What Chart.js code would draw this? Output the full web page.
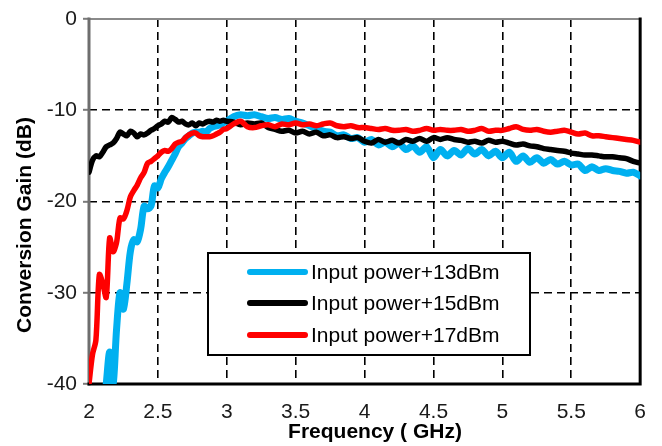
<!DOCTYPE html>
<html>
<head>
<meta charset="utf-8">
<script src="https://cdn.jsdelivr.net/npm/chart.js@4.4.1/dist/chart.umd.min.js"></script>
<style>
  html, body { margin: 0; padding: 0; background: #fff; }
  #wrap { width: 662px; height: 446px; }
</style>
</head>
<body>
<div id="wrap"><canvas id="gainChart" width="662" height="446"></canvas></div>
<script>
// frequency points (GHz), finer steps on the steep rising part
const freqGHz = [
  2.0, 2.025, 2.05, 2.075, 2.1, 2.125, 2.15, 2.175, 2.2, 2.225,
  2.25, 2.275, 2.3, 2.325, 2.35, 2.375, 2.4, 2.425, 2.45, 2.475,
  2.5, 2.525, 2.55, 2.575, 2.6, 2.625, 2.65, 2.675, 2.7, 2.725,
  2.75, 2.775, 2.8, 2.825, 2.85, 2.875, 2.9, 2.925, 2.95, 2.975,
  3.0, 3.05, 3.1, 3.15, 3.2, 3.25, 3.3, 3.35, 3.4, 3.45,
  3.5, 3.55, 3.6, 3.65, 3.7, 3.75, 3.8, 3.85, 3.9, 3.95,
  4.0, 4.05, 4.1, 4.15, 4.2, 4.25, 4.3, 4.35, 4.4, 4.45,
  4.5, 4.55, 4.6, 4.65, 4.7, 4.75, 4.8, 4.85, 4.9, 4.95,
  5.0, 5.05, 5.1, 5.15, 5.2, 5.25, 5.3, 5.35, 5.4, 5.45,
  5.5, 5.55, 5.6, 5.65, 5.7, 5.75, 5.8, 5.85, 5.9, 5.95,
  6.0
];

const gain13dBm = [
  null, null, null, null, null, -40, -36.5, -40, -34, -30.0,
  -31.8, -29.0, -25.5, -24.2, -24.4, -23.0, -20.5, -20.8, -20.5, -18.3,
  -18.5, -17.5, -16.8, -16.2, -15.5, -14.8, -14.0, -13.6, -13.1, -12.8,
  -12.5, -12.4, -12.4, -12.3, -12.4, -12.0, -11.8, -11.7, -11.6, -11.4,
  -11.2, -10.7, -10.5, -10.6, -10.5, -10.7, -10.9, -10.8, -11.0, -10.9,
  -11.2, -11.4, -11.7, -12.0, -12.3, -12.4, -12.8, -12.7, -13.1, -13.0,
  -13.5, -13.2, -13.8, -13.5, -14.0, -13.6, -14.3, -13.9, -14.6, -14.0,
  -15.2, -14.3, -15.0, -14.4, -14.9, -14.2, -14.8, -14.3, -15.0, -14.5,
  -15.2, -14.6, -15.6, -15.0, -15.7, -15.2, -15.8, -15.4, -15.9, -15.6,
  -16.0, -15.9, -16.6, -16.2, -16.6, -16.4, -16.6, -16.7, -16.9, -16.8,
  -17.2
];

const gain15dBm = [
  -16.8, -15.5, -15.0, -15.1, -14.6, -14.0, -13.8, -13.6, -13.1, -12.4,
  -12.6, -12.8, -12.3, -12.5, -12.9, -12.6, -12.7, -12.5, -12.2, -12.0,
  -11.7, -11.5, -11.2, -11.3, -10.8, -11.0, -11.3, -11.2, -11.5, -11.6,
  -11.4, -11.7, -11.4, -11.5, -11.3, -11.2, -11.3, -11.1, -11.2, -11.1,
  -11.2, -11.3, -11.6, -11.4, -11.5, -11.4, -11.9, -12.1, -12.3, -12.2,
  -12.5, -12.3, -12.6, -12.4, -12.8, -12.7, -13.0, -12.9, -13.1, -13.0,
  -13.4, -13.6, -13.2, -13.5, -13.3, -13.6, -13.2, -13.4, -13.1, -13.4,
  -13.0, -13.2, -13.0, -13.2, -13.3, -13.5, -13.4, -13.6, -13.3, -13.5,
  -13.4, -13.6, -13.8, -13.7, -13.9, -14.0, -14.2, -14.3, -14.4, -14.5,
  -14.7, -14.8, -14.9, -14.9, -15.0, -15.1, -15.1, -15.2, -15.3, -15.6,
  -15.8
];

const gain17dBm = [
  -40, -36.8, -35.2, -28.0, -29.0, -30.5, -24.0, -25.5, -24.5, -21.8,
  -21.9, -21.0, -19.5, -18.8, -18.2, -17.4, -16.8, -15.8, -15.6, -15.3,
  -15.0, -14.6, -14.4, -14.5, -14.2, -13.7, -13.5, -13.4, -13.0, -12.7,
  -12.5, -12.5, -12.8, -12.9, -12.9, -12.9, -12.8, -12.6, -12.4, -12.1,
  -12.0, -11.5, -11.2, -11.8, -11.9, -11.7, -11.6, -11.8, -11.5, -11.6,
  -11.4, -11.6, -11.5, -11.7, -11.5, -11.4, -11.7, -11.8, -11.7, -11.9,
  -11.9, -12.0, -12.1, -12.0, -12.2, -12.2, -12.1, -12.3, -12.2, -12.0,
  -12.2, -12.1, -12.2, -12.2, -12.1, -12.3, -12.2, -12.0, -12.3, -12.2,
  -12.2, -12.0, -11.8, -12.1, -12.2, -12.1, -12.3, -12.4, -12.3, -12.2,
  -12.4, -12.6, -12.5, -12.8, -12.8, -12.9, -13.0, -13.1, -13.2, -13.3,
  -13.5
];

const seriesLabels = ["Input power+13dBm", "Input power+15dBm", "Input power+17dBm"];
const xTicks = [2, 2.5, 3, 3.5, 4, 4.5, 5, 5.5, 6];
const yTicks = [0, -10, -20, -30, -40];

const FONT = "'Liberation Sans', Arial, sans-serif";

function toPoints(values) {
  return freqGHz.map((f, i) => ({ x: f, y: values[i] }));
}

// frame: gray left/top, black right/bottom
const framePlugin = {
  id: "frame",
  beforeDatasetsDraw(chart) {
    const { ctx, chartArea: a } = chart;
    ctx.save();
    ctx.lineCap = "square";
    ctx.strokeStyle = "#8a8a8a";
    ctx.lineWidth = 2;
    ctx.beginPath();
    ctx.moveTo(a.left, a.top);
    ctx.lineTo(a.right, a.top);
    ctx.stroke();
    ctx.strokeStyle = "#6e6e6e";
    ctx.lineWidth = 3;
    ctx.beginPath();
    ctx.moveTo(a.left, a.top);
    ctx.lineTo(a.left, a.bottom);
    ctx.stroke();
    ctx.strokeStyle = "#000";
    ctx.lineWidth = 3;
    ctx.beginPath();
    ctx.moveTo(a.right, a.top);
    ctx.lineTo(a.right, a.bottom);
    ctx.lineTo(a.left, a.bottom);
    ctx.stroke();
    ctx.restore();
  }
};

// axis titles and boxed legend inside the plot
const overlayPlugin = {
  id: "overlay",
  afterDraw(chart) {
    const { ctx } = chart;
    ctx.save();
    ctx.fillStyle = "#000";
    ctx.font = "bold 21px " + FONT;
    ctx.textAlign = "center";
    ctx.textBaseline = "middle";
    ctx.fillText("Frequency ( GHz)", 375, 432);
    ctx.translate(25, 225);
    ctx.rotate(-Math.PI / 2);
    ctx.fillText("Conversion Gain (dB)", 0, 0);
    ctx.restore();

    ctx.save();
    ctx.fillStyle = "#fff";
    ctx.fillRect(208, 253, 322, 102);
    ctx.strokeStyle = "#000";
    ctx.lineWidth = 2;
    ctx.strokeRect(208, 253, 322, 102);
    const rows = [272, 303, 335];
    const colors = ["#00b0f0", "#000000", "#ff0000"];
    ctx.font = "21px " + FONT;
    ctx.textAlign = "left";
    ctx.textBaseline = "middle";
    seriesLabels.forEach((label, i) => {
      ctx.strokeStyle = colors[i];
      ctx.lineWidth = 6;
      ctx.lineCap = "round";
      ctx.beginPath();
      ctx.moveTo(250, rows[i]);
      ctx.lineTo(305, rows[i]);
      ctx.stroke();
      ctx.fillStyle = "#000";
      ctx.fillText(label, 311, rows[i] + 1);
    });
    ctx.restore();
  }
};

const gridColor = (ctx) => {
  const v = ctx.tick ? ctx.tick.value : null;
  return v === 2 || v === 6 || v === 0 || v === -40 ? "rgba(0,0,0,0)" : "#000";
};

new Chart(document.getElementById("gainChart"), {
  type: "line",
  data: {
    datasets: [
      {
        label: seriesLabels[0],
        data: toPoints(gain13dBm),
        borderColor: "#00b0f0",
        borderWidth: 7,
        order: 2
      },
      {
        label: seriesLabels[1],
        data: toPoints(gain15dBm),
        borderColor: "#000000",
        borderWidth: 5.5,
        order: 1
      },
      {
        label: seriesLabels[2],
        data: toPoints(gain17dBm),
        borderColor: "#ff0000",
        borderWidth: 5.5,
        order: 0
      }
    ]
  },
  options: {
    responsive: false,
    animation: false,
    devicePixelRatio: 1,
    layout: { padding: { top: 19, right: 21, left: 0, bottom: 0 } },
    elements: {
      point: { radius: 0 },
      line: { tension: 0.3, borderCapStyle: "round", borderJoinStyle: "round", fill: false }
    },
    plugins: {
      legend: { display: false },
      tooltip: { enabled: false }
    },
    scales: {
      x: {
        type: "linear",
        min: 2,
        max: 6,
        afterBuildTicks: (axis) => { axis.ticks = xTicks.map((v) => ({ value: v })); },
        afterFit: (axis) => { axis.height = 62; },
        border: { display: false, dash: [8, 5] },
        grid: {
          color: gridColor,
          lineWidth: 1.6,
          drawTicks: false
        },
        ticks: {
          color: "#1a1a1a",
          padding: 16,
          font: { family: FONT, size: 21 },
          maxRotation: 0,
          callback: (v) => String(v)
        }
      },
      y: {
        type: "linear",
        min: -40,
        max: 0,
        afterBuildTicks: (axis) => { axis.ticks = yTicks.map((v) => ({ value: v })); },
        afterFit: (axis) => { axis.width = 89; },
        border: { display: false, dash: [8, 5] },
        grid: {
          color: gridColor,
          lineWidth: 1.6,
          tickColor: "#7a7a7a",
          tickBorderDash: [],
          tickWidth: 2,
          tickLength: 6
        },
        ticks: {
          color: "#1a1a1a",
          padding: 6,
          font: { family: FONT, size: 21 },
          callback: (v) => String(v)
        }
      }
    }
  },
  plugins: [framePlugin, overlayPlugin]
});
</script>
</body>
</html>
